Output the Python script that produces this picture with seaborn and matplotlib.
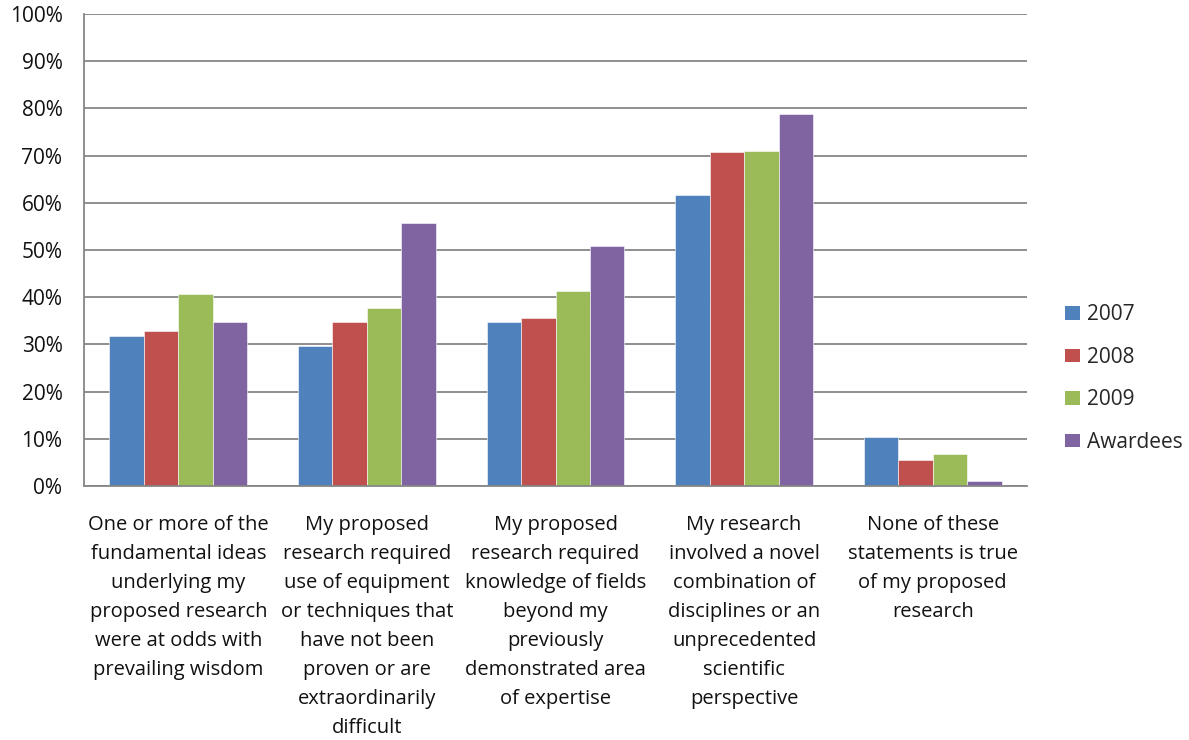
import matplotlib
matplotlib.use("Agg")
import matplotlib.pyplot as plt
import seaborn as sns
import pandas as pd
import numpy as np
from matplotlib.ticker import PercentFormatter, FixedLocator
from matplotlib.patches import Patch

categories = [
    "One or more of the\nfundamental ideas\nunderlying my\nproposed research\nwere at odds with\nprevailing wisdom",
    "My proposed\nresearch required\nuse of equipment\nor techniques that\nhave not been\nproven or are\nextraordinarily\ndifficult",
    "My proposed\nresearch required\nknowledge of fields\nbeyond my\npreviously\ndemonstrated area\nof expertise",
    "My research\ninvolved a novel\ncombination of\ndisciplines or an\nunprecedented\nscientific\nperspective",
    "None of these\nstatements is true\nof my proposed\nresearch",
]
series = ["2007", "2008", "2009", "Awardees"]
v2007 = [31.7, 29.6, 34.7, 61.7, 10.4]
v2008 = [32.8, 34.7, 35.5, 70.7, 5.5]
v2009 = [40.7, 37.8, 41.4, 71.0, 6.7]
vawd = [34.7, 55.7, 50.8, 78.9, 1.0]
colors = ["#4F81BD", "#C0504D", "#9BBB59", "#8064A2"]

rows = []
for s, vals in zip(series, [v2007, v2008, v2009, vawd]):
    for c, v in zip(categories, vals):
        rows.append({"cat": c, "series": s, "value": v})
df = pd.DataFrame(rows)

sns.set_style("white")
plt.rcParams['font.family'] = ['Open Sans', 'DejaVu Sans']

fig = plt.figure(figsize=(11.89, 7.40), dpi=100)
ax = fig.add_axes([84/1189, 1 - 486/740, (1027 - 84)/1189, (486 - 14)/740])

sns.barplot(data=df, x="cat", y="value", hue="series", order=categories,
            hue_order=series, palette=colors, width=0.73, gap=0,
            saturation=1, ax=ax, legend=False, errorbar=None,
            edgecolor="white", linewidth=0.4)

ax.set_ylim(0, 100)
ax.set_xlim(-0.5, len(categories) - 0.5)
ax.set_yticks(np.arange(0, 101, 10))
ax.yaxis.set_major_formatter(PercentFormatter(decimals=0))
ax.grid(axis="y", color="#868686", linewidth=1.3)
ax.set_axisbelow(True)
for sp in ["top", "right"]:
    ax.spines[sp].set_visible(False)
for sp in ["left", "bottom"]:
    ax.spines[sp].set_color("#868686")
    ax.spines[sp].set_linewidth(1.3)

ax.set_xlabel("")
ax.set_ylabel("")
ax.set_xticks(range(len(categories)))
ax.set_xticklabels(categories, fontsize=14.5, linespacing=1.6, va="top", ha="center", color="#111111")
ax.tick_params(axis="x", which="major", length=0, pad=21)
ax.xaxis.set_minor_locator(FixedLocator(np.arange(-0.5, len(categories), 1.0)))
ax.tick_params(axis="x", which="minor", length=4.5, width=1.3, color="#868686", direction="out")
ax.tick_params(axis="y", length=4.5, width=1.3, color="#868686", direction="out",
               labelsize=15, labelcolor="#111111", pad=11)

handles = [Patch(facecolor=c, edgecolor="none") for c in colors]
fig.legend(handles, series, loc="center left", bbox_to_anchor=(1046/1189, 1 - 378.5/740),
           frameon=False, fontsize=15, handlelength=0.72, handleheight=0.6,
           labelspacing=1.03, handletextpad=0.34)

fig.savefig("out.png", dpi=100)
